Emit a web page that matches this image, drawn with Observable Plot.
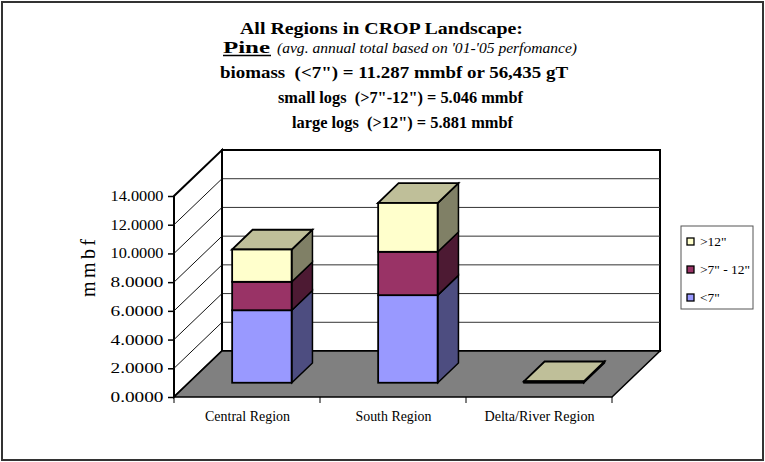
<!DOCTYPE html>
<html><head><meta charset="utf-8">
<script src="https://cdn.jsdelivr.net/npm/d3@7"></script>
<script src="https://cdn.jsdelivr.net/npm/@observablehq/plot@0.6"></script>
<style>
body{margin:0;background:#fff}
#chart{position:relative;width:765px;height:462px}
#chart svg, #chart svg text{font-family:"Liberation Serif","Times New Roman",Times,"DejaVu Serif",serif !important}
</style>
</head><body><div id="chart"></div>
<script>
// ---- data ----
const regions = ["Central Region", "South Region", "Delta/River Region"];
const seriesKeys = ["<7\"", ">7\" - 12\"", ">12\""];
const under7 = [5.05, 6.10, 0.06];
const small712 = [1.98, 3.02, 0.02];
const over12 = [2.25, 3.40, 0.02];
const seriesValues = [under7, small712, over12];
const yTicks = [0, 2, 4, 6, 8, 10, 12, 14];
const legendOrder = [">12\"", ">7\" - 12\"", "<7\""];
const titleLines = [
  "All Regions in CROP Landscape:",
  "Pine",
  "(avg. annual total based on '01-'05 perfomance)",
  "biomass  (<7\") = 11.287 mmbf or 56,435 gT",
  "small logs  (>7\"-12\") = 5.046 mmbf",
  "large logs  (>12\") = 5.881 mmbf"
];

// ---- styling ----
const FONT = '"Liberation Serif","Times New Roman",Times,"DejaVu Serif",serif';
const frontColors = ["#9999FF", "#993366", "#FFFFCC"];
const sideColors = ["#4D4D80", "#4D1A33", "#808066"];
const topColors = ["#7373BF", "#732650", "#BFBF99"];
const W = 765, H = 462;
const mL = 173, mR = 152, mT = 196, mB = 65;
const depth = [48, -46];
const barFront = 0.31, barDepth = 0.43, barWidthFrac = 0.41;
const bw = (W - mL - mR) / regions.length;
const inset = bw * (1 - barWidthFrac) / 2;
const fdx = depth[0] * barFront, fdy = depth[1] * barFront;
const bdx = depth[0] * barDepth, bdy = depth[1] * barDepth;
const xLabelWidths = [85, 76, 110];

const rows = [];
regions.forEach((r, i) => {
  let base = 0;
  seriesKeys.forEach((s, j) => {
    const v = seriesValues[j][i];
    rows.push({region: r, series: s, j, y1: base, y2: base + v, top: j === seriesKeys.length - 1});
    base += v;
  });
});

function poly(g, pts, fill, stroke, sw) {
  g.append("path").attr("d", "M" + pts.map(p => p.join(",")).join("L") + "Z")
    .attr("fill", fill).attr("stroke", stroke).attr("stroke-width", sw).attr("stroke-linejoin", "miter");
}
function line(g, a, b, stroke, sw) {
  g.append("line").attr("x1", a[0]).attr("y1", a[1]).attr("x2", b[0]).attr("y2", b[1])
    .attr("stroke", stroke).attr("stroke-width", sw);
}

function scene(index, scales) {
  const x = scales.x, y = scales.y;
  const b = x.bandwidth();
  const x0 = x(regions[0]), x1 = x(regions[regions.length - 1]) + b;
  const [dx, dy] = depth;
  const g = d3.create("svg:g");
  const ytop = y(yTicks[yTicks.length - 1]), y0 = y(0);
  poly(g, [[x0 + dx, ytop + dy], [x1 + dx, ytop + dy], [x1 + dx, y0 + dy], [x0 + dx, y0 + dy]], "white", "black", 2);
  yTicks.slice(1, -1).forEach(v => line(g, [x0 + dx, y(v) + dy], [x1 + dx, y(v) + dy], "#333", 1));
  poly(g, [[x0, y0], [x0, ytop], [x0 + dx, ytop + dy], [x0 + dx, y0 + dy]], "white", "black", 2);
  yTicks.slice(1, -1).forEach(v => line(g, [x0, y(v)], [x0 + dx, y(v) + dy], "#111", 1));
  poly(g, [[x0, y0], [x1, y0], [x1 + dx, y0 + dy], [x0 + dx, y0 + dy]], "#808080", "black", 1.5);
  regions.forEach((r, i) => line(g, [x(r), y0], [x(r), y0 + 6], "black", 1));
  line(g, [x1, y0], [x1, y0 + 6], "black", 1);
  return g.node();
}

function barSides(index, scales) {
  const x = scales.x, y = scales.y;
  const b = x.bandwidth();
  const w = b * barWidthFrac;
  const g = d3.create("svg:g");
  rows.forEach(d => {
    const fl = x(d.region) + (b - w) / 2 + fdx, fr = fl + w;
    const yt = y(d.y2) + fdy, yb = y(d.y1) + fdy;
    poly(g, [[fr, yb], [fr, yt], [fr + bdx, yt + bdy], [fr + bdx, yb + bdy]], sideColors[d.j], "black", 1.5);
    if (d.top) poly(g, [[fl, yt], [fr, yt], [fr + bdx, yt + bdy], [fl + bdx, yt + bdy]], topColors[d.j], "black", 1.8);
  });
  return g.node();
}

const plot = Plot.plot({
  width: W, height: H,
  marginLeft: mL, marginRight: mR, marginTop: mT, marginBottom: mB,
  style: {fontFamily: FONT, fontSize: "13px", color: "black", background: "transparent", overflow: "visible"},
  x: {domain: regions, padding: 0, label: null, axis: null},
  y: {domain: [0, 14], label: null, axis: null},
  color: {domain: seriesKeys, range: frontColors},
  marks: [
    scene,
    barSides,
    Plot.barY(rows, {x: "region", y1: "y1", y2: "y2", fill: "series", stroke: "black", strokeWidth: 1.8,
      insetLeft: inset, insetRight: inset, dx: fdx, dy: fdy}),
    Plot.axisY({ticks: yTicks, tickFormat: d => d.toFixed(4), tickSize: 5, tickPadding: 5, fontSize: 14, label: null, strokeWidth: 1.5}),
    Plot.axisX({tickSize: 0, tickPadding: 14, fontSize: 14, label: null}),
    Plot.text(["mmbf"], {frameAnchor: "left", dx: -85, rotate: -90, fontSize: 20, text: d => d})
  ]
});

const svg = d3.select(plot);
svg.attr("font-family", FONT);
svg.selectAll('g[aria-label="y-axis tick label"] text').attr("textLength", 53).attr("lengthAdjust", "spacingAndGlyphs");
svg.selectAll('g[aria-label="x-axis tick label"] text').each(function(d, i) {
  d3.select(this).attr("textLength", xLabelWidths[i]).attr("lengthAdjust", "spacingAndGlyphs");
});
svg.selectAll('g[aria-label="text"] text').attr("textLength", 58).attr("lengthAdjust", "spacing");

svg.insert("rect", ":first-child").attr("x", 2).attr("y", 2).attr("width", W - 4).attr("height", H - 4)
  .attr("fill", "white").attr("stroke", "#333").attr("stroke-width", 2);

const tg = svg.append("g").attr("font-family", FONT).attr("fill", "black").attr("text-anchor", "start");
function tline(txt, x, y, len, size, weight, style) {
  return tg.append("text").attr("x", x).attr("y", y).attr("font-size", size).attr("font-weight", weight || "normal")
    .attr("text-anchor", "start")
    .attr("font-style", style || "normal").attr("textLength", len).attr("lengthAdjust", "spacingAndGlyphs").text(txt);
}
tline(titleLines[0], 240, 34, 283, 16, "bold");
tline(titleLines[1], 223, 53, 47, 16, "bold");
line(tg, [223, 55.5], [271, 55.5], "black", 1.3);
tline(titleLines[2], 277, 53, 300, 15, "normal", "italic");
tline(titleLines[3], 220, 78, 348, 16, "bold");
tline(titleLines[4], 278, 103, 245, 16, "bold");
tline(titleLines[5], 292, 128, 221, 16, "bold");

const lg = svg.append("g").attr("font-family", FONT).attr("font-size", 13.5).attr("text-anchor", "start");
lg.append("rect").attr("x", 681).attr("y", 226).attr("width", 72).attr("height", 83).attr("fill", "white").attr("stroke", "#555").attr("stroke-width", 1);
legendOrder.forEach((k, i) => {
  const j = seriesKeys.indexOf(k);
  const cy = 241.5 + i * 28;
  lg.append("rect").attr("x", 687).attr("y", cy - 3.5).attr("width", 7).attr("height", 7).attr("fill", frontColors[j]).attr("stroke", "black").attr("stroke-width", 1.3);
  lg.append("text").attr("x", 700).attr("y", cy + 4.5).attr("text-anchor", "start").text(k);
});

document.getElementById("chart").appendChild(plot);
</script>
</body></html>
